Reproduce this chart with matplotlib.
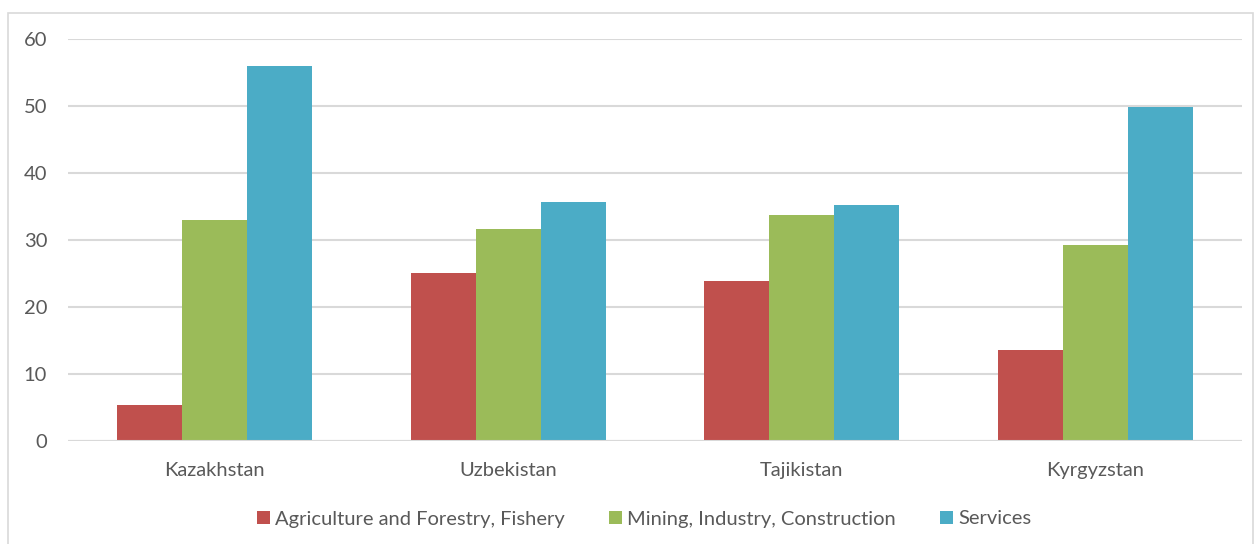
import matplotlib.pyplot as plt
from matplotlib.patches import Rectangle
import numpy as np

countries = ['Kazakhstan', 'Uzbekistan', 'Tajikistan', 'Kyrgyzstan']
agriculture = [5.4, 25.1, 23.9, 13.6]
industry = [33.0, 31.6, 33.7, 29.3]
services = [56.0, 35.7, 35.2, 49.9]
series_names = ['Agriculture and Forestry, Fishery',
                'Mining, Industry, Construction',
                'Services']
colors = ['#C0504D', '#9BBB59', '#4BACC6']

plt.rcParams['font.family'] = ['Lato', 'DejaVu Sans']
text_color = '#595959'

fig = plt.figure(figsize=(12.57, 5.44), dpi=100)
# outer chart border
fig.patches.append(Rectangle((8 / 1257, -0.01), 1245 / 1257, 1 - 13 / 544 + 0.01,
                             transform=fig.transFigure, fill=False,
                             edgecolor='#d9d9d9', linewidth=1.2))

ax = fig.add_axes([68 / 1257, 1 - 441 / 544, (1242 - 68) / 1257, (441 - 39) / 544])

x = np.arange(len(countries))
w = 0.222
for i, (vals, name, c) in enumerate(zip([agriculture, industry, services], series_names, colors)):
    ax.bar(x + (i - 1) * w, vals, width=w, color=c, label=name, zorder=3)

ax.set_xlim(-0.5, len(countries) - 0.5)
ax.set_ylim(0, 60)
ax.set_yticks(range(0, 61, 10))
ax.set_xticks(x)
ax.set_xticklabels(countries)
ax.yaxis.grid(True, color='#d9d9d9', linewidth=1.5, zorder=0)
for s in ax.spines.values():
    s.set_visible(False)
ax.axhline(0, color='#d9d9d9', linewidth=1.5, zorder=4)
ax.tick_params(axis='both', length=0, labelsize=14.5, labelcolor=text_color)
ax.tick_params(axis='y', pad=15)
ax.tick_params(axis='x', pad=15)

leg = fig.legend(loc='center', bbox_to_anchor=(644 / 1257, 1 - 519 / 544), ncol=3,
                 frameon=False, fontsize=14.5, handlelength=0.65, handleheight=0.65,
                 handletextpad=0.25, columnspacing=2.2)
for t in leg.get_texts():
    t.set_color(text_color)

fig.savefig('out.png', dpi=100)
